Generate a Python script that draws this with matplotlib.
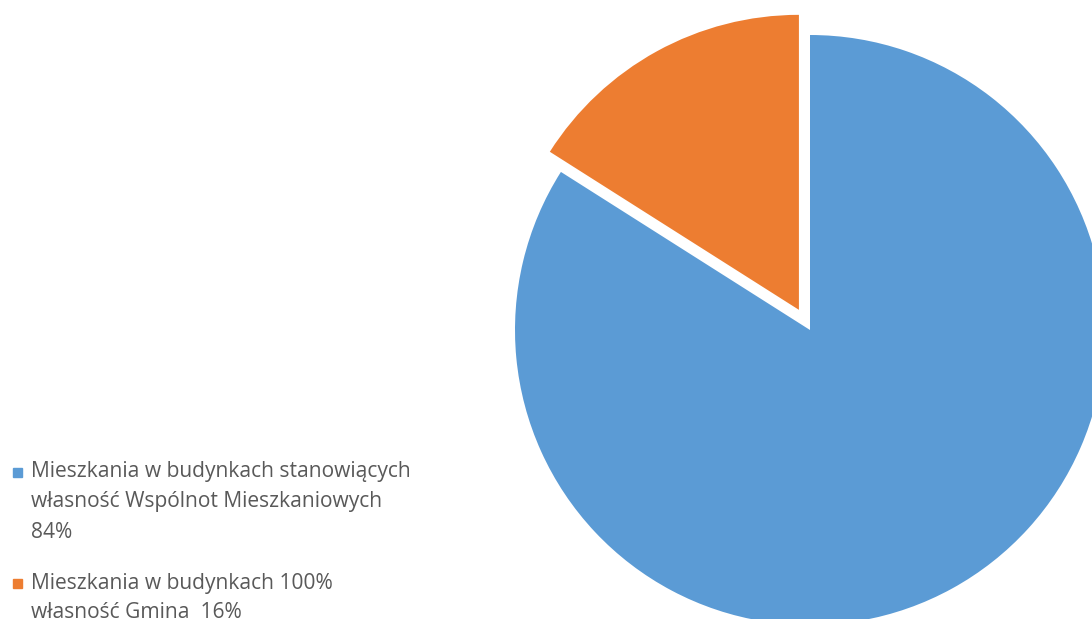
import matplotlib
matplotlib.use("Agg")
import matplotlib.pyplot as plt

categories = ["Mieszkania w budynkach stanowiących własność Wspólnot Mieszkaniowych",
              "Mieszkania w budynkach 100% własność Gmina"]
values = [84, 16]
legend_lines = [
    ["Mieszkania w budynkach stanowiących", "własność Wspólnot Mieszkaniowych", "84%"],
    ["Mieszkania w budynkach 100%", "własność Gmina  16%"],
]
colors = ["#5B9BD5", "#ED7D31"]

W, H = 1092, 619
fig = plt.figure(figsize=(W / 100, H / 100), dpi=100)
ax = fig.add_axes([0, 0, 1, 1])
ax.pie(values, colors=colors, startangle=90, counterclock=False,
       explode=[0, 23], center=(810, H - 330), radius=295,
       wedgeprops=dict(linewidth=0), frame=True)
ax.set_xlim(0, W)
ax.set_ylim(0, H)
ax.set_aspect("equal")
ax.axis("off")

text_color = "#595959"
font = "Open Sans"
starts = [472, 583]
for lines, col, y0 in zip(legend_lines, colors, starts):
    fig.patches.append(plt.Rectangle((13 / W, 1 - (y0 + 4.5) / H), 9 / W, 9 / H,
                                     transform=fig.transFigure, color=col))
    for i, line in enumerate(lines):
        y = y0 + i * 30
        fig.text(31 / W, 1 - y / H, line, ha="left", va="center",
                 fontsize=15.1, color=text_color, family=font)

fig.savefig("out.png", dpi=100)
